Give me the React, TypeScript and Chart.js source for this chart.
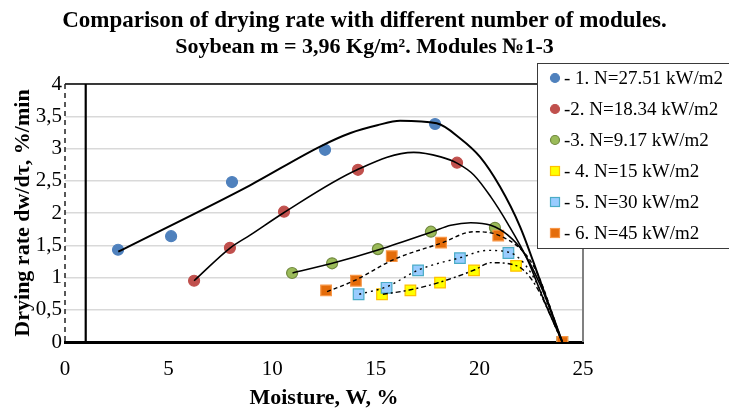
import React, { useEffect, useRef } from 'react';
import { Chart, registerables } from 'chart.js';

Chart.register(...registerables);

const FONT = '"Liberation Serif", "Times New Roman", serif';

const titleLines = [
  'Comparison of drying rate with different number of modules.',
  'Soybean m = 3,96 Kg/m². Modules №1-3',
];
const xAxisTitle = 'Moisture, W, %';
const yAxisTitle = 'Drying rate dw/dτ, %/min';
const seriesLabels = [
  '- 1. N=27.51 kW/m2',
  '-2. N=18.34 kW/m2',
  '-3. N=9.17 kW/m2',
  '- 4. N=15 kW/m2',
  '- 5. N=30 kW/m2',
  '- 6. N=45 kW/m2',
];

// axis settings
const xMin = 0;
const xMax = 25;
const xStep = 5;
const yMin = 0;
const yMax = 4;
const yStep = 0.5;
const verticalMarkerX = 1;

// measured points
const s1X = [2.56, 5.12, 8.06, 12.55, 17.86, 24];
const s1Y = [1.43, 1.64, 2.48, 2.98, 3.38, 0];
const s2X = [6.23, 7.96, 10.57, 14.14, 18.92, 24];
const s2Y = [0.95, 1.46, 2.02, 2.67, 2.78, 0];
const s3X = [10.96, 12.89, 15.1, 17.66, 20.75, 24];
const s3Y = [1.07, 1.22, 1.44, 1.71, 1.77, 0];
const s4X = [15.3, 16.67, 18.1, 19.74, 21.77, 24];
const s4Y = [0.74, 0.8, 0.92, 1.11, 1.18, 0];
const s5X = [14.17, 15.52, 17.04, 19.06, 21.4, 24];
const s5Y = [0.74, 0.84, 1.11, 1.3, 1.38, 0];
const s6X = [12.6, 14.04, 15.77, 18.15, 20.91, 24];
const s6Y = [0.8, 0.95, 1.33, 1.54, 1.65, 0];

// trend lines
const t1X = [2.57, 8.93, 12.31, 13.78, 15.07, 16.17, 17.94, 19.06, 20.03, 20.99, 21.96, 22.92, 24];
const t1Y = [1.4, 2.43, 3.03, 3.24, 3.36, 3.43, 3.39, 3.16, 2.87, 2.41, 1.79, 0.96, 0];
const t2X = [6.23, 7.98, 8.95, 10.54, 14.1, 16.83, 18.13, 18.94, 19.73, 20.55, 21.36, 22.33, 23.11, 24];
const t2Y = [0.95, 1.46, 1.66, 2.0, 2.67, 2.94, 2.87, 2.77, 2.59, 2.25, 1.84, 1.27, 0.65, 0];
const t3X = [10.98, 12.9, 15.14, 17.73, 18.62, 19.58, 20.55, 21.36, 22.15, 22.97, 24];
const t3Y = [1.07, 1.22, 1.43, 1.71, 1.81, 1.85, 1.81, 1.66, 1.38, 0.86, 0];
const t4X = [15.34, 16.68, 18.13, 19.78, 20.55, 21.81, 22.65, 24];
const t4Y = [0.74, 0.81, 0.93, 1.12, 1.23, 1.18, 0.91, 0];
const t5X = [14.2, 15.56, 17.08, 19.1, 20.39, 21.44, 22.49, 24];
const t5Y = [0.74, 0.86, 1.12, 1.31, 1.42, 1.39, 1.07, 0];
const t6X = [12.65, 14.02, 15.87, 18.13, 19.74, 21.04, 22.63, 24];
const t6Y = [0.78, 0.96, 1.28, 1.53, 1.71, 1.64, 1.17, 0];

const zip = (xs: number[], ys: number[]) => xs.map((x, i) => ({ x, y: ys[i] }));

type MarkerStyle = { shape: 'circle' | 'rect'; fill: string; stroke: string };
const markers: MarkerStyle[] = [
  { shape: 'circle', fill: '#4F81BD', stroke: '#4F81BD' },
  { shape: 'circle', fill: '#C0504D', stroke: '#C0504D' },
  { shape: 'circle', fill: '#9BBB59', stroke: '#71893F' },
  { shape: 'rect', fill: '#FFFF00', stroke: '#FFC000' },
  { shape: 'rect', fill: '#99CCFF', stroke: '#4BACC6' },
  { shape: 'rect', fill: '#E46C0A', stroke: '#F79646' },
];

const pointSets = [zip(s1X, s1Y), zip(s2X, s2Y), zip(s3X, s3Y), zip(s4X, s4Y), zip(s5X, s5Y), zip(s6X, s6Y)];
const trendSets = [zip(t1X, t1Y), zip(t2X, t2Y), zip(t3X, t3Y), zip(t4X, t4Y), zip(t5X, t5Y), zip(t6X, t6Y)];
const trendWidths = [2, 1.6, 1.6, 1.4, 1.4, 1.4];
const trendDashes: number[][] = [[], [], [], [5, 3, 2, 3], [2, 4], [4, 3]];

const framePlugin = {
  id: 'frame',
  beforeDatasetsDraw(chart: any) {
    const { ctx, chartArea, scales } = chart;
    ctx.save();
    // right border
    ctx.strokeStyle = '#808080';
    ctx.lineWidth = 2;
    ctx.beginPath();
    ctx.moveTo(chartArea.right, chartArea.top);
    ctx.lineTo(chartArea.right, chartArea.bottom);
    ctx.stroke();
    // top line
    ctx.strokeStyle = '#000';
    ctx.lineWidth = 1.5;
    ctx.beginPath();
    ctx.moveTo(chartArea.left, scales.y.getPixelForValue(yMax));
    ctx.lineTo(chartArea.right, scales.y.getPixelForValue(yMax));
    ctx.stroke();
    // dashed value axis
    ctx.strokeStyle = '#222';
    ctx.lineWidth = 1.5;
    ctx.setLineDash([5, 4]);
    ctx.beginPath();
    ctx.moveTo(chartArea.left, scales.y.getPixelForValue(yMax));
    ctx.lineTo(chartArea.left, scales.y.getPixelForValue(yMin));
    ctx.stroke();
    ctx.setLineDash([]);
    // vertical line
    const vx = scales.x.getPixelForValue(verticalMarkerX);
    ctx.strokeStyle = '#000';
    ctx.lineWidth = 2.2;
    ctx.beginPath();
    ctx.moveTo(vx, scales.y.getPixelForValue(yMax));
    ctx.lineTo(vx, scales.y.getPixelForValue(yMin));
    ctx.stroke();
    ctx.restore();
  },
};

const titlePlugin = {
  id: 'twoLineTitle',
  afterDraw(chart: any) {
    const { ctx, width } = chart;
    ctx.save();
    ctx.fillStyle = '#000';
    ctx.textAlign = 'center';
    ctx.textBaseline = 'middle';
    ctx.font = 'bold 23px ' + FONT;
    ctx.fillText(titleLines[0], width / 2, 21);
    ctx.font = 'bold 22px ' + FONT;
    ctx.fillText(titleLines[1], width / 2, 47);
    ctx.restore();
  },
};

const legendPlugin = {
  id: 'boxLegend',
  afterDraw(chart: any) {
    const { ctx } = chart;
    ctx.save();
    const bx = 537.5;
    const by = 63.5;
    ctx.fillStyle = '#fff';
    ctx.fillRect(bx, by, 200, 185);
    ctx.strokeStyle = '#3a3a3a';
    ctx.lineWidth = 1;
    ctx.strokeRect(bx, by, 200, 185);
    ctx.font = '19px ' + FONT;
    ctx.textBaseline = 'middle';
    ctx.textAlign = 'left';
    seriesLabels.forEach((label, i) => {
      const cy = 78 + i * 31;
      const m = markers[i];
      ctx.fillStyle = m.fill;
      ctx.strokeStyle = m.stroke;
      ctx.lineWidth = 1.2;
      if (m.shape === 'circle') {
        ctx.beginPath();
        ctx.arc(555, cy, 4.5, 0, Math.PI * 2);
        ctx.fill();
        ctx.stroke();
      } else {
        ctx.fillRect(550.5, cy - 4.5, 9, 9);
        ctx.strokeRect(550.5, cy - 4.5, 9, 9);
      }
      ctx.fillStyle = '#000';
      ctx.fillText(label, 564, cy + 1);
    });
    ctx.restore();
  },
};

export default function App() {
  const ref = useRef<HTMLCanvasElement | null>(null);
  useEffect(() => {
    if (!ref.current) return;
    const datasets: any[] = [];
    trendSets.forEach((data, i) => {
      datasets.push({
        type: 'line',
        data,
        borderColor: '#000',
        borderWidth: trendWidths[i],
        borderDash: trendDashes[i],
        pointRadius: 0,
        fill: false,
        cubicInterpolationMode: 'monotone',
        order: 0,
      });
    });
    pointSets.forEach((data, i) => {
      const m = markers[i];
      datasets.push({
        type: 'scatter',
        data,
        showLine: false,
        pointStyle: m.shape,
        pointRadius: m.shape === 'circle' ? 5.5 : 7.5,
        pointBackgroundColor: m.fill,
        pointBorderColor: m.stroke,
        pointBorderWidth: 1.2,
        order: 6 - i,
      });
    });
    const chart = new Chart(ref.current, {
      type: 'scatter',
      data: { datasets },
      plugins: [framePlugin, titlePlugin, legendPlugin],
      options: {
        responsive: false,
        animation: false,
        layout: { padding: { top: 84, right: 146, left: 0, bottom: 0 } },
        plugins: { legend: { display: false }, tooltip: { enabled: false }, title: { display: false } },
        scales: {
          x: {
            type: 'linear',
            min: xMin,
            max: xMax,
            afterFit: (s: any) => { s.height = 67; },
            ticks: { stepSize: xStep, color: '#000', font: { family: FONT, size: 21 }, padding: 15, maxRotation: 0 },
            grid: { display: false, drawTicks: false },
            border: { display: true, color: '#000', width: 3 },
            title: { display: true, text: xAxisTitle, color: '#000', font: { family: FONT, size: 22, weight: 'bold' }, padding: { top: 0, bottom: -3 } },
          },
          y: {
            type: 'linear',
            min: yMin,
            max: yMax,
            afterFit: (s: any) => { s.width = 65; },
            ticks: {
              stepSize: yStep,
              color: '#000',
              font: { family: FONT, size: 21 },
              padding: 3,
              callback: (v: any) => String(v).replace('.', ','),
            },
            grid: { display: true, color: '#d9d9d9', lineWidth: 1.5, drawTicks: false },
            border: { display: false },
            title: { display: true, text: yAxisTitle, color: '#000', font: { family: FONT, size: 22, weight: 'bold' }, padding: { top: 10, bottom: 0 } },
          },
        },
      } as any,
    });
    return () => chart.destroy();
  }, []);
  return (
    <div style={{ position: 'fixed', left: 0, top: 0, width: 729, height: 409, background: '#fff' }}>
      <canvas ref={ref} width={729} height={409} style={{ display: 'block' }} />
    </div>
  );
}
